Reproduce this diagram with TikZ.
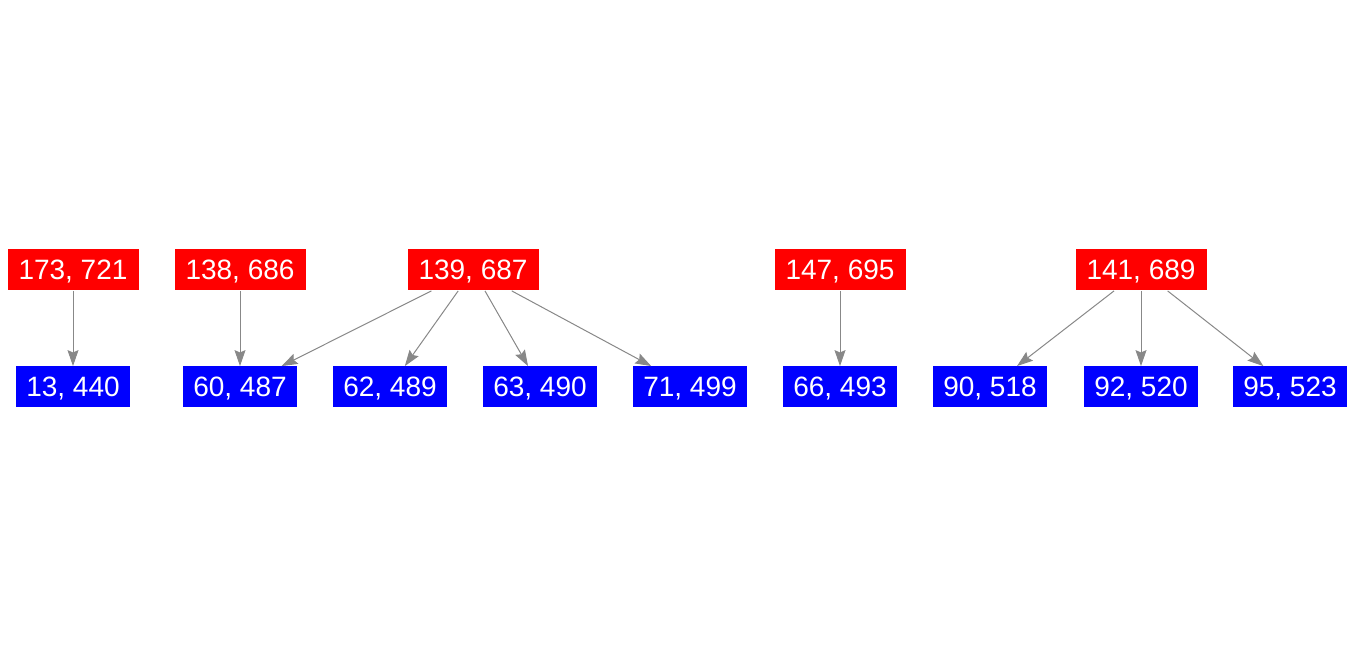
\documentclass[tikz,border=0pt]{standalone}
\usepackage{fontspec}
\setmainfont{Liberation Sans}
\usetikzlibrary{arrows.meta}
\definecolor{edgegray}{HTML}{888888}
\tikzset{
  src/.style={fill=red, text=white, minimum width=65.5pt, minimum height=20.5pt, inner sep=0pt, text depth=0pt, font=\fontsize{14}{16}\selectfont},
  dst/.style={fill=blue, text=white, minimum width=57pt, minimum height=20.5pt, inner sep=0pt, text depth=0pt, font=\fontsize{14}{16}\selectfont},
  link/.style={draw=edgegray, line width=0.5pt, -{Stealth[length=8pt,width=5.5pt,inset=1.2pt]}}
}
\begin{document}
\begin{tikzpicture}[x=0.5pt,y=-0.5pt]
\useasboundingbox (0,0) rectangle (1354,656);

% top row
\node[src] (r173) at (73,270) {173, 721};
\node[src] (r138) at (240,270) {138, 686};
\node[src] (r139) at (473,270) {139, 687};
\node[src] (r147) at (840,270) {147, 695};
\node[src] (r141) at (1141,270) {141, 689};

% bottom row
\node[dst] (b13) at (73,387) {13, 440};
\node[dst] (b60) at (240,387) {60, 487};
\node[dst] (b62) at (390,387) {62, 489};
\node[dst] (b63) at (540,387) {63, 490};
\node[dst] (b71) at (690,387) {71, 499};
\node[dst] (b66) at (840,387) {66, 493};
\node[dst] (b90) at (990,387) {90, 518};
\node[dst] (b92) at (1141,387) {92, 520};
\node[dst] (b95) at (1290,387) {95, 523};

\draw[link] (r173) -- (b13);
\draw[link] (r138) -- (b60);
\draw[link] (r139) -- (b60);
\draw[link] (r139) -- (b62);
\draw[link] (r139) -- (b63);
\draw[link] (r139) -- (b71);
\draw[link] (r147) -- (b66);
\draw[link] (r141) -- (b90);
\draw[link] (r141) -- (b92);
\draw[link] (r141) -- (b95);
\end{tikzpicture}
\end{document}
